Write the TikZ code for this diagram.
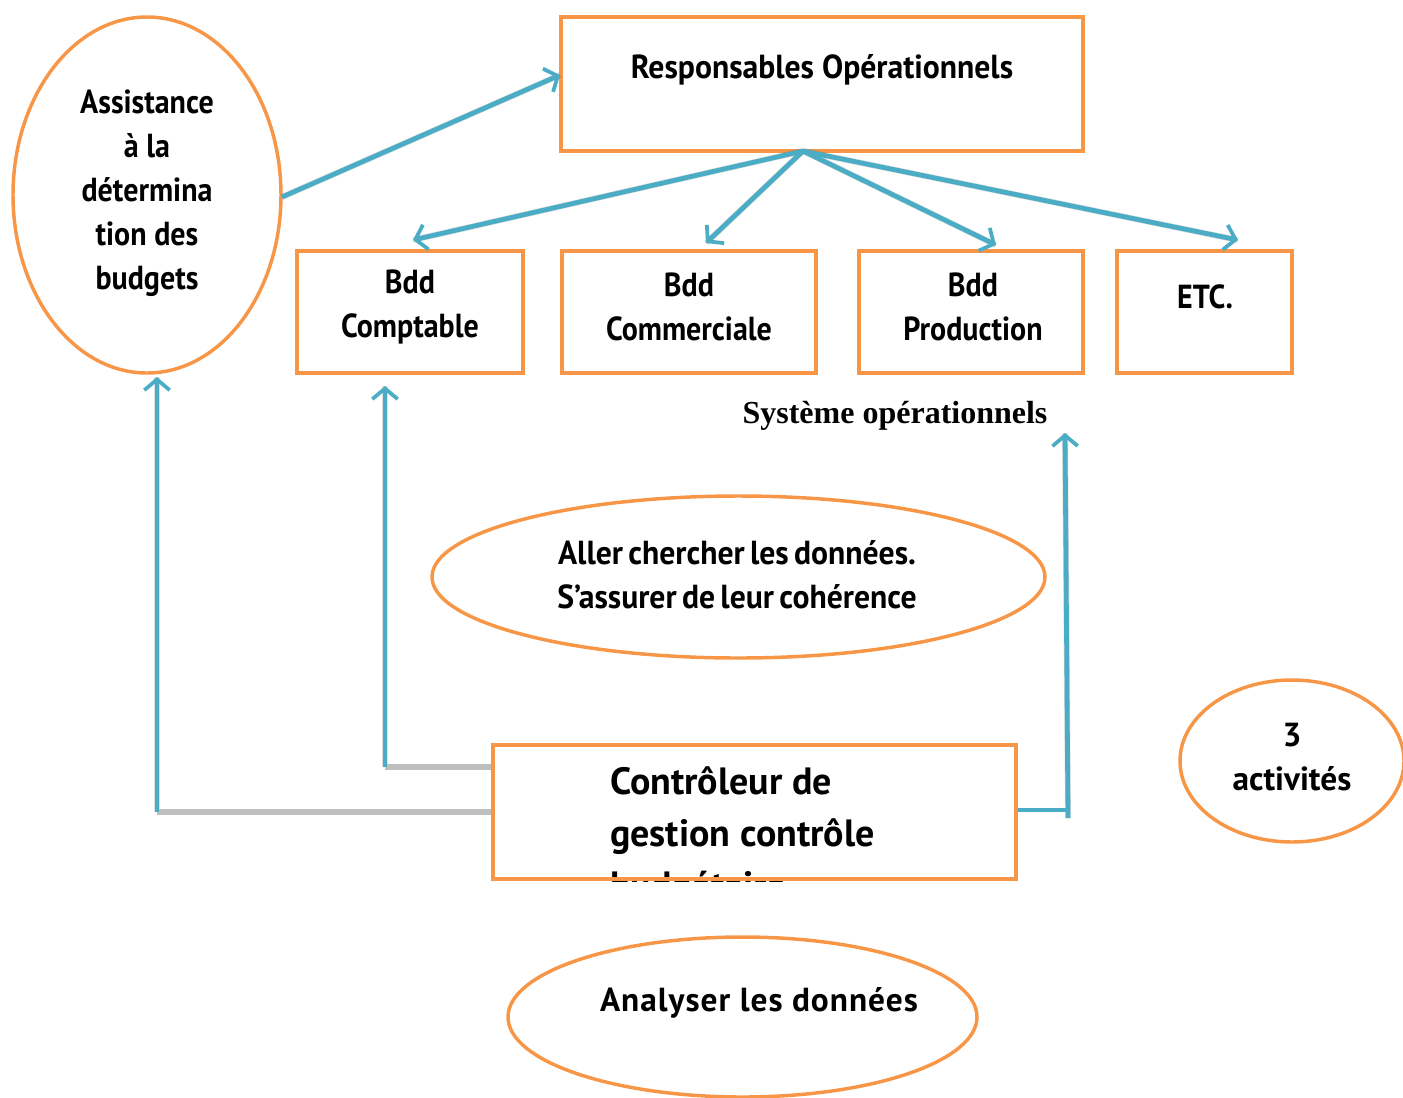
\documentclass[tikz,border=0pt]{standalone}
\usepackage{fontspec}
\setmainfont[FakeStretch=0.9]{PT Sans}
\newfontfamily\widefont{PT Sans}
\newfontfamily\midfont[FakeStretch=0.95]{PT Sans}
\newfontfamily\spacedfont[LetterSpace=3]{PT Sans}
\newfontfamily\serifbold{Liberation Serif}
\usetikzlibrary{shapes.geometric,arrows.meta,calc}

\definecolor{frame}{HTML}{F79646}
\definecolor{link}{HTML}{4BACC6}
\definecolor{elbow}{HTML}{BFBFBF}

\tikzset{
  boxnode/.style={draw=frame, line width=3pt, rectangle, inner sep=0pt},
  ovalnode/.style={draw=frame, line width=2.6pt, ellipse, inner sep=0pt},
  txt/.style={align=center, inner sep=0pt, font=\bfseries\fontsize{25}{33}\selectfont},
  midtxt/.style={txt, font=\midfont\bfseries\fontsize{25}{33}\selectfont},
  widetxt/.style={txt, font=\widefont\bfseries\fontsize{25}{33}\selectfont},
  flow/.style={draw=link, line width=3.6pt,
    -{Straight Barb[length=8pt,width=19pt,line width=2.8pt]}},
  plain/.style={draw=link, line width=3.6pt},
  haze/.style={draw=black, opacity=0.12, line width=4.5pt},
  greyline/.style={draw=elbow, line width=3.8pt},
}

\begin{document}
\begin{tikzpicture}[x=0.75pt,y=-0.75pt]
\useasboundingbox (0,0) rectangle (1403,1097);

% ---- shapes ----
\node[boxnode, minimum width=391.5pt, minimum height=100.5pt] (resp) at (822,84) {};
\node[boxnode, minimum width=169.5pt, minimum height=91.5pt] (compta) at (410,312) {};
\node[boxnode, minimum width=190.5pt, minimum height=91.5pt] (comm) at (689,312) {};
\node[boxnode, minimum width=168pt, minimum height=91.5pt] (prod) at (971,312) {};
\node[boxnode, minimum width=131.25pt, minimum height=91.5pt] (etc) at (1204.5,312) {};
\node[ovalnode, minimum width=201pt, minimum height=267pt] (assist) at (147,195) {};
\node[ovalnode, minimum width=459.75pt, minimum height=121.5pt] (aller) at (738.5,577) {};
\node[ovalnode, minimum width=351.75pt, minimum height=120pt] (analyse) at (742.5,1017) {};
\node[ovalnode, minimum width=168pt, minimum height=121.5pt] (activ) at (1292,761) {};

% ---- texts ----
\node[midtxt] (resp-t) at (822,70) {Responsables Opérationnels};
\node[txt] (compta-t) at (410,307) {Bdd\\Comptable};
\node[txt] (comm-t) at (689,307) {Bdd\\Commerciale};
\node[txt] (prod-t) at (973,307) {Bdd\\Production};
\node[txt] (etc-t) at (1205,297) {ETC.};
\node[txt] (assist-t) at (147,193) {Assistance\\à la\\détermina\\tion des\\budgets};
\node[midtxt] (aller-t) at (737,575) {\spaceskip=0.16em Aller chercher les données.\\\spaceskip=0.16em S’assurer de leur cohérence};
\node[txt, font=\spacedfont\bfseries\fontsize{25}{33}\selectfont] (analyse-t) at (759,1003) {Analyser les données};
\node[widetxt] (activ-t) at (1292,757) {3\\activités};
\node[inner sep=0pt, font=\serifbold\bfseries\fontsize{24}{27}\selectfont]
  (sys-t) at (895,416) {Système opérationnels};

% ---- controller box, its third line cut off by the frame ----
\node[boxnode, draw=none, fill=white, minimum width=392.25pt, minimum height=100.5pt] (ctrl) at (754.5,812) {};
\begin{scope}
  \clip (ctrl.south west) rectangle (ctrl.north east);
  \node[anchor=base west, align=left, inner sep=0pt,
        font=\widefont\bfseries\fontsize{28.5}{39}\selectfont] (ctrl-t) at (610,898)
        {Contrôleur de\\gestion contrôle\\budgétaire};
\end{scope}
\node[boxnode, minimum width=392.25pt, minimum height=100.5pt] at (ctrl) {};

% ---- connector points ----
\coordinate (hub) at (803,151);
\coordinate (to-compta) at (413,240);
\coordinate (to-comm) at (706,243);
\coordinate (to-prod) at (996,245);
\coordinate (to-etc) at (1238,240);
\coordinate (from-assist) at (282,197);
\coordinate (to-resp) at (560,75);
\coordinate (elbow-a) at (157,812);
\coordinate (elbow-b) at (385,767);
\coordinate (to-assist) at (157,377);
\coordinate (to-compta-up) at (385,386);
\coordinate (elbow-c) at (1068,810);
\coordinate (foot-c) at (1068,818);
\coordinate (to-sys) at (1065,433);

% ---- soft shadows under the connectors ----
\foreach \a/\b in {hub/to-compta, hub/to-comm, hub/to-prod, hub/to-etc,
                   from-assist/to-resp, elbow-a/to-assist, elbow-b/to-compta-up,
                   foot-c/to-sys}
  \draw[haze, shift={(2,3)}] (\a) -- (\b);
\draw[haze, shift={(2,3)}] (ctrl.west |- elbow-a) -- (elbow-a);
\draw[haze, shift={(2,3)}] (ctrl.west |- elbow-b) -- (elbow-b);

% ---- grey elbows from the controller ----
\draw[greyline] (ctrl.west |- elbow-a) -- (elbow-a);
\draw[greyline] (ctrl.west |- elbow-b) -- (elbow-b);

% ---- arrows ----
\draw[flow] (hub) -- (to-compta);
\draw[flow] (hub) -- (to-comm);
\draw[flow] (hub) -- (to-prod);
\draw[flow] (hub) -- (to-etc);
\draw[flow] (from-assist) -- (to-resp);
\draw[flow] (elbow-a) -- (to-assist);
\draw[flow] (elbow-b) -- (to-compta-up);
\draw[plain] (ctrl.east |- elbow-c) -- (elbow-c);
\draw[flow] (foot-c) -- (to-sys);
\end{tikzpicture}
\end{document}
